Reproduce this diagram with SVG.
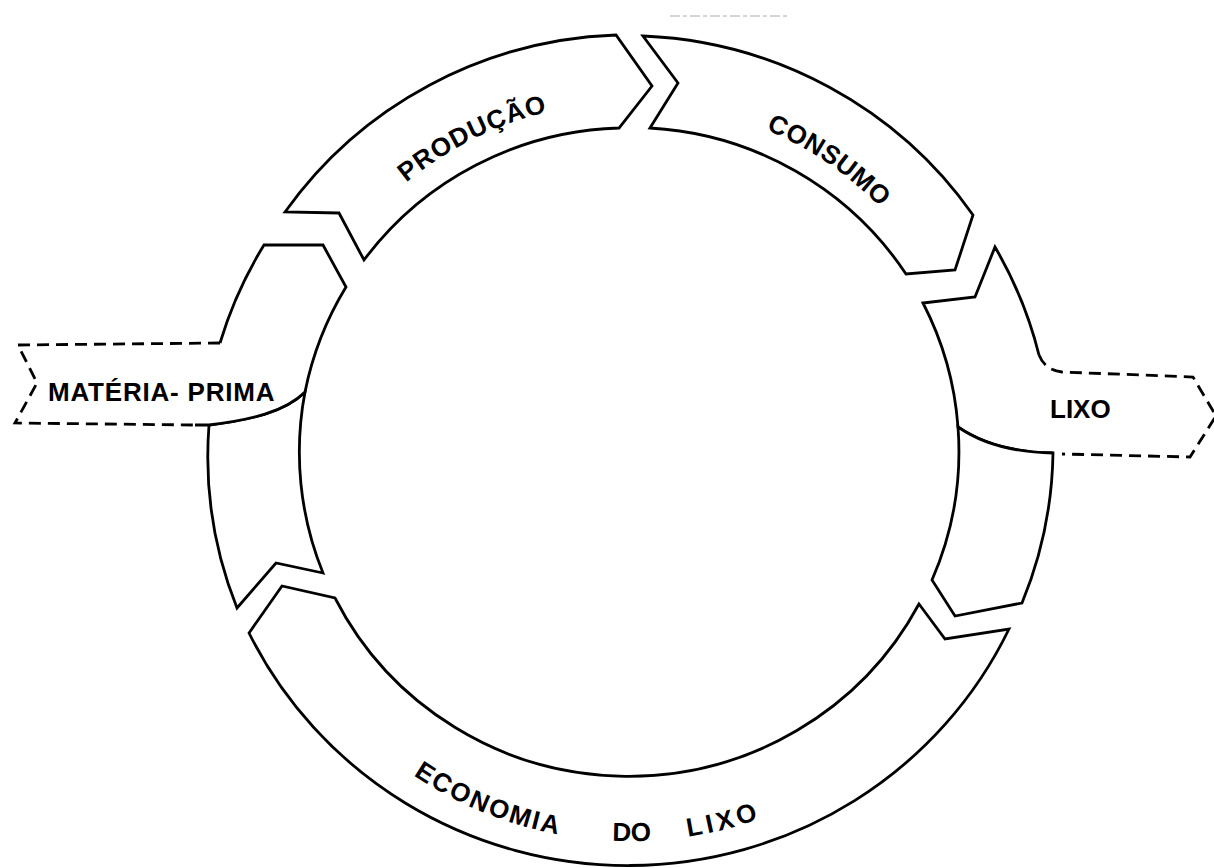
<svg xmlns="http://www.w3.org/2000/svg" width="1214" height="868" viewBox="0 0 1214 868">
<defs>
<style>
.seg{fill:#fff;stroke:#000;stroke-width:2.8;stroke-linejoin:miter}
.fillonly{fill:#fff;stroke:none}
.ln{fill:none;stroke:#000;stroke-width:2.8;stroke-linejoin:miter}
.dash{fill:none;stroke:#000;stroke-width:2.8;stroke-dasharray:12 7}
.lbl{font-family:"Liberation Sans",Arial,sans-serif;font-weight:bold;fill:#000}
</style>
<path id="topArc" d="M 280,452 A 350 350 0 0 1 980,452"/>
<path id="botArc" d="M 293.1,646.5 A 389 389 0 0 0 966.9,646.5"/>
</defs>
<rect width="1214" height="868" fill="#fff"/>
<line x1="670" y1="16" x2="790" y2="16" stroke="#aaa" stroke-width="1" stroke-dasharray="10 3 4 3"/>

<g id="producao">
<path class="seg" d="M 285,212 A 422 415 0 0 1 616,35 L 652,86 L 619,128 A 329 325 0 0 0 364,260 L 339,213 Z"/>
<text class="lbl" font-size="26" letter-spacing="1"><textPath href="#topArc" startOffset="387" text-anchor="middle">PRODUÇÃO</textPath></text>
</g>

<g id="consumo">
<path class="seg" d="M 643,36 A 422 415 0 0 1 973,215 L 955,270 L 906,274 A 329 325 0 0 0 650,128 L 678,83 Z"/>
<text class="lbl" font-size="26" letter-spacing="0.5"><textPath href="#topArc" startOffset="759" text-anchor="middle">CONSUMO</textPath></text>
</g>

<g id="lixo">
<path class="fillonly" d="M 995,247 A 422 415 0 0 1 1039,355 Q 1045,370 1062,372 L 1193,377 L 1216,416 L 1190,457 L 1067,454 L 1053,453 Q 994,452 958,427 A 329 325 0 0 0 923,303 L 975,297 Z"/>
<path class="ln" d="M 1053,453 Q 994,452 958,427 A 329 325 0 0 0 923,303 L 975,297 L 995,247 A 422 415 0 0 1 1039,355"/>
<path class="dash" d="M 1039,355 Q 1045,370 1062,372 L 1193,377 L 1216,416 L 1190,457 L 1062,454"/>
<text class="lbl" x="1050" y="418" font-size="26">LIXO</text>
</g>

<g id="segmento-direito">
<path class="seg" d="M 1053,453 A 422 415 0 0 1 1022,603 L 955,616 L 932,580 A 329 325 0 0 0 958,427 Q 994,452 1053,453 Z"/>
</g>

<g id="economia-do-lixo">
<path class="seg" d="M 1009,629 A 422 415 0 0 1 249,633 L 282,586 L 335,598 A 329 325 0 0 0 919,604 L 945,639 Z"/>
<text class="lbl" font-size="26" letter-spacing="2"><textPath href="#botArc" startOffset="257" text-anchor="middle">ECONOMIA</textPath></text>
<text class="lbl" font-size="26"><textPath href="#botArc" startOffset="409" text-anchor="middle">DO</textPath></text>
<text class="lbl" font-size="26" letter-spacing="4"><textPath href="#botArc" startOffset="504" text-anchor="middle">LIXO</textPath></text>
</g>

<g id="segmento-esquerdo">
<path class="seg" d="M 323,573 L 276,563 L 237,608 A 422 415 0 0 1 209,425 C 250,420 285,412 305,392 A 329 325 0 0 0 323,573 Z"/>
</g>

<g id="materia-prima">
<path class="fillonly" d="M 264,245 L 323,245 L 346,287 A 329 325 0 0 0 305,392 C 285,412 250,420 209,425 L 15,423 L 37,383 L 18,345 L 220,343 A 422 415 0 0 1 264,245 Z"/>
<path class="ln" d="M 195,425 L 209,425 C 250,420 285,412 305,392 A 329 325 0 0 1 346,287 L 323,245 L 264,245 A 422 415 0 0 0 220,343"/>
<path class="dash" d="M 220,343 L 18,345 L 37,383 L 15,423 L 195,425"/>
<text class="lbl" x="48" y="401" font-size="26" letter-spacing="0.8">MATÉRIA- PRIMA</text>
</g>

<g id="connectors"></g>
</svg>
